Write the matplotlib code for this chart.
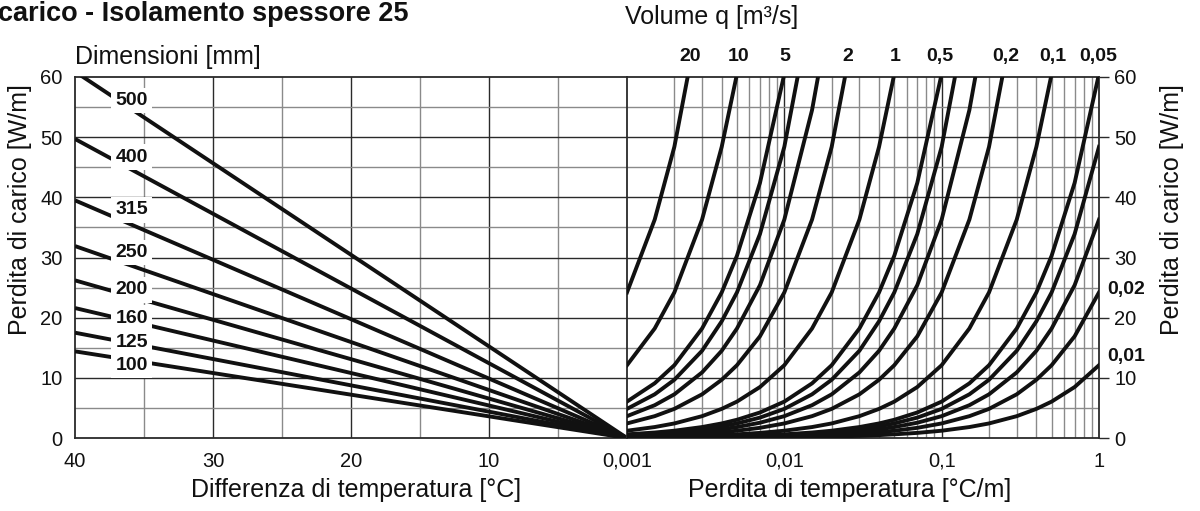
import matplotlib
matplotlib.use("Agg")
import matplotlib.pyplot as plt
from matplotlib.ticker import FixedLocator, NullFormatter

plt.rcParams['font.family'] = ['Liberation Sans', 'DejaVu Sans']

# ---------------- data ----------------
# Left panel: pipe dimension [mm] -> heat loss [W/m] at 40 °C difference (line to 0 at 0 °C)
dimensions = ['100', '125', '160', '200', '250', '315', '400', '500']
loss_at_40 = [14.4, 17.5, 21.6, 26.2, 31.9, 39.5, 49.7, 60.9]
dim_label_x = [35.9] * 8
dim_label_y = [12.1, 15.9, 19.9, 24.6, 30.8, 37.9, 46.7, 56.1]

# Right panel: temperature loss [°C/m] grid and loss [W/m] per volume flow q [m3/s]
temp_loss_x = [0.001, 0.0015, 0.002, 0.003, 0.004, 0.005, 0.007,
               0.01, 0.015, 0.02, 0.03, 0.04, 0.05, 0.07,
               0.1, 0.15, 0.2, 0.3, 0.4, 0.5, 0.7, 1.0]
volumes = ['20', '10', '5', '4', '3', '2', '1', '0,5', '0,4', '0,3', '0,2', '0,1',
           '0,05', '0,04', '0,03', '0,02', '0,01']
curve_q20 = [24.2, 36.3, 48.4, 72.6]
curve_q10 = [12.1, 18.2, 24.2, 36.3, 48.4, 60.5]
curve_q5 = [6.05, 9.1, 12.1, 18.2, 24.2, 30.3, 42.4, 60.5]
curve_q4 = [4.84, 7.26, 9.68, 14.5, 19.4, 24.2, 33.9, 48.4, 72.6]
curve_q3 = [3.63, 5.45, 7.26, 10.9, 14.5, 18.2, 25.4, 36.3, 54.5, 72.6]
curve_q2 = [2.42, 3.63, 4.84, 7.26, 9.68, 12.1, 16.9, 24.2, 36.3, 48.4, 72.6]
curve_q1 = [1.21, 1.82, 2.42, 3.63, 4.84, 6.05, 8.47, 12.1, 18.2, 24.2, 36.3, 48.4, 60.5]
curve_q05 = [0.61, 0.91, 1.21, 1.82, 2.42, 3.03, 4.24, 6.05, 9.08, 12.1, 18.2, 24.2,
             30.3, 42.4, 60.5]
curve_q04 = [0.48, 0.73, 0.97, 1.45, 1.94, 2.42, 3.39, 4.84, 7.26, 9.68, 14.5, 19.4,
             24.2, 33.9, 48.4, 72.6]
curve_q03 = [0.36, 0.54, 0.73, 1.09, 1.45, 1.82, 2.54, 3.63, 5.45, 7.26, 10.9, 14.5,
             18.2, 25.4, 36.3, 54.5, 72.6]
curve_q02 = [0.24, 0.36, 0.48, 0.73, 0.97, 1.21, 1.69, 2.42, 3.63, 4.84, 7.26, 9.68,
             12.1, 16.9, 24.2, 36.3, 48.4, 72.6]
curve_q01 = [0.12, 0.18, 0.24, 0.36, 0.48, 0.61, 0.85, 1.21, 1.82, 2.42, 3.63, 4.84,
             6.05, 8.47, 12.1, 18.2, 24.2, 36.3, 48.4, 60.5]
curve_q005 = [0.06, 0.09, 0.12, 0.18, 0.24, 0.30, 0.42, 0.61, 0.91, 1.21, 1.82, 2.42,
              3.03, 4.24, 6.05, 9.08, 12.1, 18.2, 24.2, 30.3, 42.4, 60.5]
curve_q004 = [0.05, 0.07, 0.10, 0.15, 0.19, 0.24, 0.34, 0.48, 0.73, 0.97, 1.45, 1.94,
              2.42, 3.39, 4.84, 7.26, 9.68, 14.5, 19.4, 24.2, 33.9, 48.4]
curve_q003 = [0.04, 0.05, 0.07, 0.11, 0.15, 0.18, 0.25, 0.36, 0.54, 0.73, 1.09, 1.45,
              1.82, 2.54, 3.63, 5.45, 7.26, 10.9, 14.5, 18.2, 25.4, 36.3]
curve_q002 = [0.02, 0.04, 0.05, 0.07, 0.10, 0.12, 0.17, 0.24, 0.36, 0.48, 0.73, 0.97,
              1.21, 1.69, 2.42, 3.63, 4.84, 7.26, 9.68, 12.1, 16.9, 24.2]
curve_q001 = [0.01, 0.02, 0.02, 0.04, 0.05, 0.06, 0.08, 0.12, 0.18, 0.24, 0.36, 0.48,
              0.61, 0.85, 1.21, 1.82, 2.42, 3.63, 4.84, 6.05, 8.47, 12.1]
curves = [curve_q20, curve_q10, curve_q5, curve_q4, curve_q3, curve_q2, curve_q1,
          curve_q05, curve_q04, curve_q03, curve_q02, curve_q01, curve_q005,
          curve_q004, curve_q003, curve_q002, curve_q001]

top_labels = ['20', '10', '5', '2', '1', '0,5', '0,2', '0,1', '0,05']
top_label_x = [0.00252, 0.00509, 0.0101, 0.0254, 0.0506, 0.097, 0.256, 0.51, 0.985]
side_labels = ['0,02', '0,01']
side_label_y = [24.6, 13.5]

left_xticks = [40, 30, 20, 10]
right_xticks = [0.001, 0.01, 0.1, 1]
right_xticklabels = ['0,001', '0,01', '0,1', '1']
yticks = [0, 10, 20, 30, 40, 50, 60]

# ---------------- figure ----------------
W, H = 1200, 511
fig = plt.figure(figsize=(W / 100, H / 100), dpi=100)

def frac(px, py):
    return px / W, 1 - py / H

axL = fig.add_axes([75 / W, 73 / H, 552 / W, 361 / H])
axR = fig.add_axes([627 / W, 73 / H, 472 / W, 361 / H])

dark = '#2a2a2a'
grey = '#8a8a8a'
ink = '#111111'
lw_curve = 2.8
tick_fs = 14.5
lab_fs = 18
bold_fs = 14

# Left axes
axL.set_xlim(40, 0)
axL.set_ylim(0, 60)
for v in [35, 25, 15, 5]:
    axL.axvline(v, color=grey, lw=1.0, zorder=1)
for v in [30, 20, 10]:
    axL.axvline(v, color=dark, lw=1.0, zorder=1)
for v in [5, 15, 25, 35, 45, 55]:
    axL.axhline(v, color=grey, lw=1.0, zorder=1)
for v in [10, 20, 30, 40, 50]:
    axL.axhline(v, color=dark, lw=1.0, zorder=1)

for d, y40 in zip(dimensions, loss_at_40):
    axL.plot([40, 0], [y40, 0], color=ink, lw=lw_curve, solid_capstyle='butt', zorder=3)
for d, lx, ly in zip(dimensions, dim_label_x, dim_label_y):
    axL.text(lx, ly, d, ha='center', va='center', fontsize=bold_fs,
             fontweight='bold', color=ink, zorder=5,
             bbox=dict(boxstyle='square,pad=0.22', fc='white', ec='none'))

axL.set_xticks(left_xticks)
axL.set_xticklabels([str(t) for t in left_xticks])
axL.set_yticks(yticks)
axL.tick_params(axis='both', length=0, labelsize=tick_fs, colors=ink)
axL.tick_params(axis='x', pad=10)
axL.tick_params(axis='y', pad=9)
for s in ['left', 'top', 'bottom']:
    axL.spines[s].set_color(dark)
    axL.spines[s].set_linewidth(1.3)
axL.spines['right'].set_visible(False)

# Right axes
axR.set_xscale('log')
axR.set_xlim(0.001, 1)
axR.set_ylim(0, 60)
for dec in [0.001, 0.01, 0.1]:
    for m in range(2, 10):
        axR.axvline(dec * m, color=grey, lw=1.0, zorder=1)
for v in [0.01, 0.1]:
    axR.axvline(v, color=dark, lw=1.0, zorder=1)
for v in [5, 15, 25, 35, 45, 55]:
    axR.axhline(v, color=grey, lw=1.0, zorder=1)
for v in [10, 20, 30, 40, 50]:
    axR.axhline(v, color=dark, lw=1.0, zorder=1)

for vals in curves:
    axR.plot(temp_loss_x[:len(vals)], vals, color=ink, lw=lw_curve,
             solid_joinstyle='round', zorder=3)

axR.xaxis.set_major_locator(FixedLocator(right_xticks))
axR.xaxis.set_minor_locator(FixedLocator([]))
axR.xaxis.set_minor_formatter(NullFormatter())
axR.set_xticklabels(right_xticklabels)
axR.tick_params(axis='x', length=0, labelsize=tick_fs, pad=10, colors=ink)
axR.yaxis.tick_right()
axR.set_yticks(yticks)
axR.tick_params(axis='y', length=7, width=1.0, labelsize=tick_fs, pad=4,
                colors=ink)
axR.tick_params(axis='y', color=dark)
for s in ['right', 'top', 'bottom', 'left']:
    axR.spines[s].set_color(dark)
    axR.spines[s].set_linewidth(1.3)

for lab, lx in zip(top_labels, top_label_x):
    axR.annotate(lab, xy=(lx, 60), xycoords='data', xytext=(0, 14.5),
                 textcoords='offset points', ha='center', va='center',
                 fontsize=bold_fs, fontweight='bold', color=ink, annotation_clip=False)
for lab, ly in zip(side_labels, side_label_y):
    axR.annotate(lab, xy=(1, ly), xycoords='data', xytext=(6, 0),
                 textcoords='offset points', ha='left', va='center',
                 fontsize=bold_fs, fontweight='bold', color=ink, annotation_clip=False)

# Texts
fig.text(*frac(-2, 14), 'carico - Isolamento spessore 25', ha='left', va='center',
         fontsize=19.5, fontweight='bold', color=ink)
fig.text(*frac(75, 57), 'Dimensioni [mm]', ha='left', va='center', fontsize=lab_fs,
         color=ink)
fig.text(*frac(625, 17), 'Volume q [m³/s]', ha='left', va='center', fontsize=lab_fs,
         color=ink)
fig.text(*frac(20, 210), 'Perdita di carico [W/m]', ha='center', va='center',
         rotation=90, fontsize=lab_fs, color=ink)
fig.text(*frac(1172, 210), 'Perdita di carico [W/m]', ha='center', va='center',
         rotation=90, fontsize=lab_fs, color=ink)
fig.text(*frac(356, 490), 'Differenza di temperatura [°C]', ha='center', va='center',
         fontsize=lab_fs, color=ink)
fig.text(*frac(850, 490), 'Perdita di temperatura [°C/m]', ha='center', va='center',
         fontsize=lab_fs, color=ink)

fig.savefig('out.png', dpi=100)
